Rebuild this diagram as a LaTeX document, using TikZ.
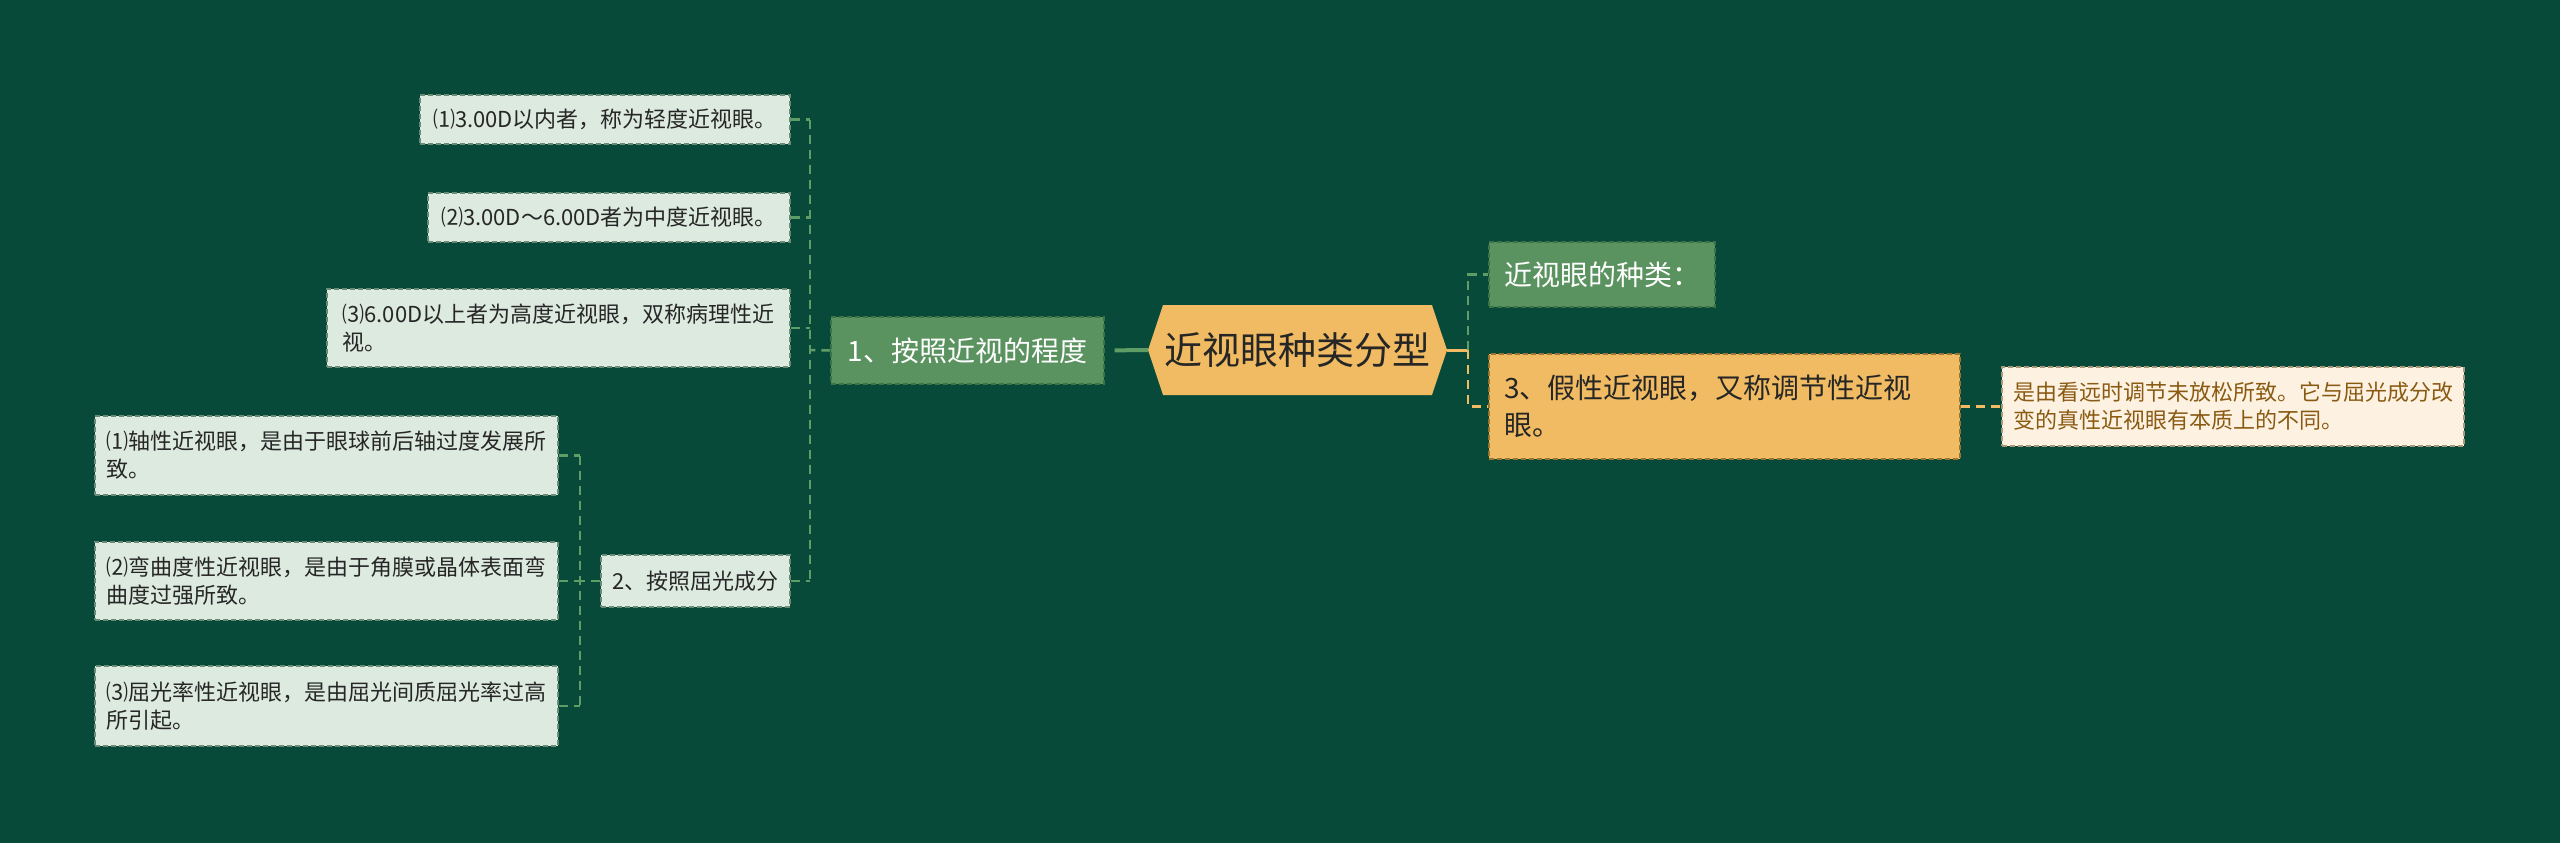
\documentclass[tikz,border=0pt]{standalone}
\usepackage{fontspec}
\setmainfont{Noto Sans CJK SC}
\usetikzlibrary{shapes.symbols}
\definecolor{bgcol}{HTML}{084A3A}
\definecolor{greenfill}{HTML}{5A935F}
\definecolor{greenline}{HTML}{3C7346}
\definecolor{linkgreen}{HTML}{5E9E66}
\definecolor{leaffill}{HTML}{DDEAE0}
\definecolor{leafline}{HTML}{6A8C76}
\definecolor{orangefill}{HTML}{F0BB62}
\definecolor{orangeline}{HTML}{9A7430}
\definecolor{creamfill}{HTML}{FDF2E2}
\definecolor{creamline}{HTML}{A89878}
\definecolor{creamtext}{HTML}{8A5A12}

\begin{document}
\begin{tikzpicture}[x=1pt,y=-1pt,
  box/.style={dash pattern=on 5pt off 3pt, line width=1.2pt, inner xsep=10pt, inner ysep=0pt, align=left},
  leaf/.style={box, draw=leafline, fill=leaffill, text=black!85, font=\fontsize{22}{28}\selectfont},
  mid/.style={box, draw=greenline, fill=greenfill, text=white, font=\fontsize{28}{36}\selectfont},
  link/.style={draw=linkgreen, line width=2.5pt, dash pattern=on 9pt off 6pt},
  linko/.style={draw=orangefill, line width=2.5pt, dash pattern=on 9pt off 6pt}]

    % background and page size
    \fill[bgcol] (0,0) rectangle (2560,843);
    \useasboundingbox (0,0) rectangle (2560,843);

    % First the root
    \node[signal, signal to=west and east, signal pointer angle=143, fill=orangefill, text=black!85,
          minimum width=299pt, minimum height=90pt, inner sep=0pt, font=\fontsize{38}{44}\selectfont]
          (root) at (1297.5,350) {近视眼种类分型};

    % Now the left branch
    \node[mid, minimum width=273pt, minimum height=67pt] (n1) at (967.5,350.5) {1、按照近视的程度};
    \node[leaf, minimum width=370pt, minimum height=49pt] (l1a) at (605,119.5) {⑴3.00D以内者，称为轻度近视眼。};
    \node[leaf, minimum width=362pt, minimum height=49pt] (l1b) at (609,217.5) {⑵3.00D～6.00D者为中度近视眼。};
    \node[leaf, minimum width=463pt, minimum height=78pt] (l1c) at (558.5,328) {⑶6.00D以上者为高度近视眼，双称病理性近\\视。};
    \node[leaf, minimum width=189pt, minimum height=52pt] (n2) at (695.5,581) {2、按照屈光成分};
    \node[leaf, minimum width=463pt, minimum height=79pt] (l2a) at (326.5,455.5) {⑴轴性近视眼，是由于眼球前后轴过度发展所\\致。};
    \node[leaf, minimum width=463pt, minimum height=78pt] (l2b) at (326.5,581) {⑵弯曲度性近视眼，是由于角膜或晶体表面弯\\曲度过强所致。};
    \node[leaf, minimum width=463pt, minimum height=80pt] (l2c) at (326.5,706) {⑶屈光率性近视眼，是由屈光间质屈光率过高\\所引起。};

    % Now the right branch
    \node[mid, minimum width=226pt, minimum height=65pt] (kind) at (1602,274.5) {近视眼的种类：};
    \node[box, draw=orangeline, fill=orangefill, text=black!85, font=\fontsize{28}{37}\selectfont,
          inner xsep=15pt, text width=441pt, minimum height=105pt] (n3) at (1724.5,406.5) {3、假性近视眼，又称调节性近视\\眼。};
    \node[box, draw=creamline, fill=creamfill, text=creamtext, font=\fontsize{22}{28}\selectfont,
          minimum width=462pt, minimum height=79pt] (cream) at (2233,406.5) {是由看远时调节未放松所致。它与屈光成分改\\变的真性近视眼有本质上的不同。};

    % connectors of the first group
    \coordinate (trunkA) at (810,350);
    \draw[linkgreen, line width=4pt, shorten <=10pt] (n1.east) -- (root.west);
    \draw[link] (n1.west) -- (trunkA);
    \draw[link] (l1a.east -| trunkA) -- (n2.east -| trunkA);
    \foreach \n in {l1a,l1b,l1c,n2}
        \draw[link] (\n.east) -- (\n.east -| trunkA);

    % connectors of the second group
    \coordinate (trunkB) at (580,581);
    \draw[link] (n2.west) -- (trunkB);
    \draw[link] (l2a.east -| trunkB) -- (l2c.east -| trunkB);
    \foreach \n in {l2a,l2b,l2c}
        \draw[link] (\n.east) -- (\n.east -| trunkB);

    % connectors on the right
    \coordinate (trunkC) at (1468,350);
    \draw[orangefill, line width=3pt] (root.east) -- (trunkC);
    \draw[link] (trunkC) |- (kind.west);
    \draw[linko] (trunkC) |- (n3.west);
    \draw[linko] (n3.east) -- (cream.west);
\end{tikzpicture}
\end{document}
